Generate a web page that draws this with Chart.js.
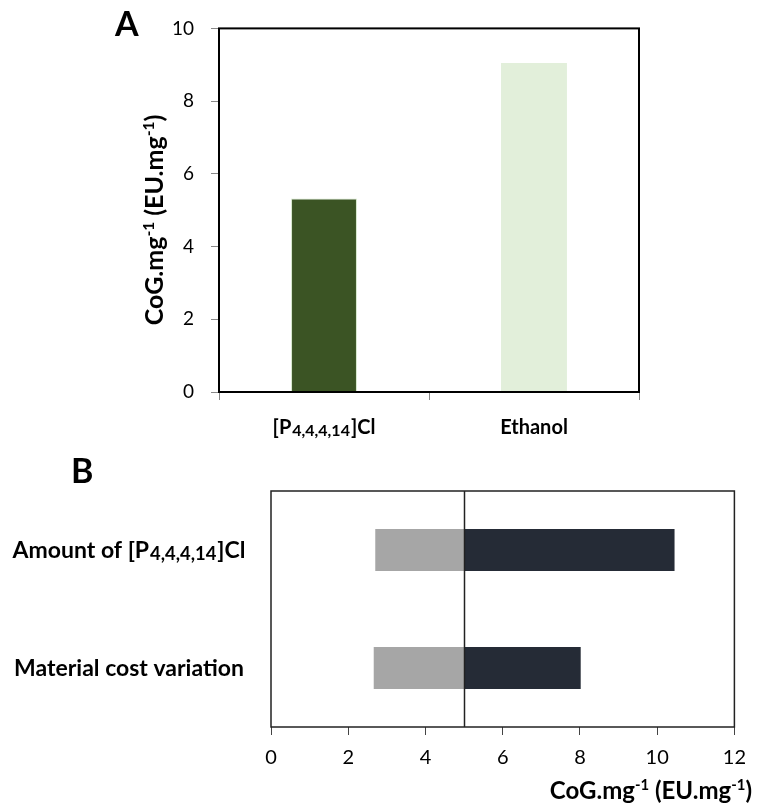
<!DOCTYPE html>
<html>
<head>
<meta charset="utf-8">
<script src="https://cdn.jsdelivr.net/npm/chart.js@4"></script>
<style>
  body { margin: 0; background: #fff; }
  #wrap { position: relative; width: 757px; height: 805px; }
  canvas { position: absolute; left: 0; }
</style>
</head>
<body>
<div id="wrap">
  <canvas id="costChart" width="757" height="440" style="top:0"></canvas>
  <canvas id="sensitivityChart" width="757" height="365" style="top:440px"></canvas>
</div>
<script>
/* data */
const solventLabels = ['[P_{4,4,4,14}]Cl', 'Ethanol'];
const costValues = [5.32, 9.05];
const costTicks = [0, 2, 4, 6, 8, 10];

const factorLabels = ['Amount of [P_{4,4,4,14}]Cl', 'Material cost variation'];
const lowValues = [2.7, 2.66];
const highValues = [10.45, 8.02];
const baseCost = 5;
const sensTicks = [0, 2, 4, 6, 8, 10, 12];

const axisTitle = 'CoG.mg^{-1} (EU.mg^{-1})';

Chart.defaults.font.family = 'Lato';
Chart.defaults.color = '#000';
Chart.defaults.animation = false;

/* text with _{sub} and ^{sup} parts */
function drawRich(ctx, text, x, y, size, align) {
  const parts = [];
  const re = /([_^])\{([^}]*)\}/g;
  let last = 0, m;
  while ((m = re.exec(text))) {
    if (m.index > last) parts.push({t: text.slice(last, m.index), k: ''});
    parts.push({t: m[2], k: m[1]});
    last = re.lastIndex;
  }
  if (last < text.length) parts.push({t: text.slice(last), k: ''});
  let w = 0;
  parts.forEach(p => {
    p.s = p.k === '_' ? size * 0.8 : p.k === '^' ? size * 0.62 : size;
    ctx.font = 'bold ' + p.s + 'px Lato';
    p.w = ctx.measureText(p.t).width + (p.k === '_' ? 2 : 0);
    w += p.w;
  });
  let cx = align === 'right' ? x - w : align === 'center' ? x - w / 2 : x;
  ctx.textAlign = 'left';
  ctx.textBaseline = 'alphabetic';
  ctx.fillStyle = '#000';
  const base = y + size * 0.36;
  parts.forEach(p => {
    ctx.font = 'bold ' + p.s + 'px Lato';
    const dy = p.k === '_' ? size * 0.07 : p.k === '^' ? -size * 0.38 : 0;
    ctx.fillText(p.t, cx + (p.k === '_' ? 1 : 0), base + dy);
    cx += p.w;
  });
}

/* График A */
const ctx1 = document.getElementById('costChart').getContext('2d');
const costChart = new Chart(ctx1, {
  type: 'bar',
  data: {
    labels: solventLabels,
    datasets: [{
      data: costValues,
      backgroundColor: ['#3b5424', '#e2efda'],
      borderColor: ['#d6e8cc', '#e2efda'],
      borderWidth: 1,
      categoryPercentage: 1,
      barPercentage: 0.314
    }]
  },
  options: {
    responsive: false,
    devicePixelRatio: 1,
    layout: { padding: { left: 0, top: 26, right: 118, bottom: 0 } },
    plugins: { legend: { display: false }, tooltip: { enabled: false } },
    scales: {
      x: {
        ticks: { display: false },
        grid: { drawOnChartArea: false, drawTicks: true, tickLength: 8, color: '#888', offset: true },
        border: { display: false },
        afterFit: s => { s.height = 48; }
      },
      y: {
        min: 0, max: 10,
        afterBuildTicks: s => { s.ticks = costTicks.map(v => ({value: v})); },
        ticks: { font: { size: 19 }, padding: 17, color: '#000' },
        grid: { drawOnChartArea: false, drawTicks: true, tickLength: 8, color: '#888' },
        border: { display: false },
        afterFit: s => { s.width = 219; }
      }
    }
  },
  plugins: [{
    id: 'decorA',
    afterDraw(chart) {
      const c = chart.ctx, a = chart.chartArea;
      c.save();
      c.strokeStyle = '#000';
      c.lineWidth = 2;
      c.strokeRect(a.left, a.top, a.right - a.left, a.bottom - a.top);
      const xs = chart.scales.x;
      solventLabels.forEach((l, i) => drawRich(c, l, xs.getPixelForValue(i), 427, 20, 'center'));
      c.translate(154, 220);
      c.rotate(-Math.PI / 2);
      drawRich(c, axisTitle, 0, 0, 25, 'center');
      c.restore();
      c.save();
      c.font = 'bold 34px Lato';
      c.fillStyle = '#000';
      c.textBaseline = 'middle';
      c.fillText('A', 115, 25);
      c.restore();
    }
  }]
});

/* График B */
const ctx2 = document.getElementById('sensitivityChart').getContext('2d');
const sensitivityChart = new Chart(ctx2, {
  type: 'bar',
  data: {
    labels: factorLabels,
    datasets: [{
      data: lowValues.map(v => [v, baseCost]),
      backgroundColor: '#a6a6a6',
      grouped: false,
      categoryPercentage: 1,
      barPercentage: 0.356
    }, {
      data: highValues.map(v => [baseCost, v]),
      backgroundColor: '#252b36',
      grouped: false,
      categoryPercentage: 1,
      barPercentage: 0.356
    }]
  },
  options: {
    indexAxis: 'y',
    responsive: false,
    devicePixelRatio: 1,
    layout: { padding: { left: 0, top: 51, right: 20, bottom: 0 } },
    plugins: { legend: { display: false }, tooltip: { enabled: false } },
    scales: {
      x: {
        min: 0, max: 12,
        afterBuildTicks: s => { s.ticks = sensTicks.map(v => ({value: v})); },
        ticks: { font: { size: 20 }, padding: 11, color: '#000' },
        grid: { drawOnChartArea: false, drawTicks: true, tickLength: 8, color: '#444' },
        border: { display: false },
        afterFit: s => { s.height = 78; }
      },
      y: {
        ticks: { display: false },
        grid: { display: false },
        border: { display: false },
        afterFit: s => { s.width = 271; }
      }
    }
  },
  plugins: [{
    id: 'decorB',
    afterDraw(chart) {
      const c = chart.ctx, a = chart.chartArea;
      const xs = chart.scales.x, ys = chart.scales.y;
      c.save();
      c.strokeStyle = '#222';
      c.lineWidth = 1.5;
      c.strokeRect(a.left, a.top, a.right - a.left, a.bottom - a.top);
      const bx = Math.round(xs.getPixelForValue(baseCost)) + 0.5;
      c.beginPath();
      c.moveTo(bx, a.top);
      c.lineTo(bx, a.bottom);
      c.stroke();
      factorLabels.forEach((l, i) => drawRich(c, l, 129, ys.getPixelForValue(i), 23, 'center'));
      drawRich(c, axisTitle, 752, 350, 24, 'right');
      c.font = 'bold 34px Lato';
      c.fillStyle = '#000';
      c.textBaseline = 'middle';
      c.fillText('B', 71, 32);
      c.restore();
    }
  }]
});
</script>
</body>
</html>
